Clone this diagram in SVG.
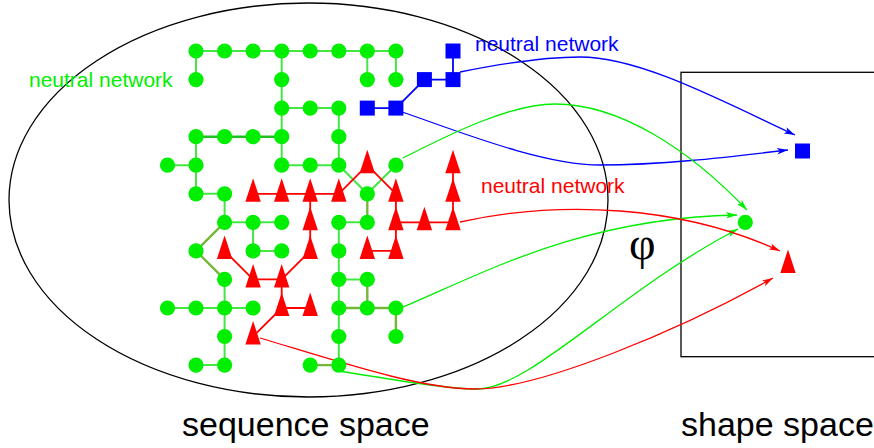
<svg xmlns="http://www.w3.org/2000/svg" xmlns:xlink="http://www.w3.org/1999/xlink" width="874" height="448" viewBox="0 0 874 448">
<style>
.g{fill:#00ee00}
.r{fill:#ff0000}
.b{fill:#0000ff}
.ge{stroke:#44e644;stroke-width:2;fill:none}
.ok{stroke:#74b83a;stroke-width:2.4;fill:none}
.dk{stroke:#1fbf1f;stroke-width:2.4;fill:none}
.re{stroke:#ff0000;stroke-width:1.8;fill:none}
.be{stroke:#0000ff;stroke-width:1.8;fill:none}
.cb{stroke:#0000ff;stroke-width:1.3;fill:none;marker-end:url(#ab)}
.cg{stroke:#00ee00;stroke-width:1.3;fill:none;marker-end:url(#ag)}
.cr{stroke:#ff0000;stroke-width:1.3;fill:none;marker-end:url(#ar)}
.lbl{font-family:"Liberation Sans",Arial,sans-serif;font-size:21px}
.big{font-family:"Liberation Sans",Arial,sans-serif;font-size:34px;fill:#000}
</style>
<defs>
<circle id="dot" r="7.6" cx="0" cy="0"/>
<rect id="sq" x="-7.5" y="-7.5" width="15" height="15"/>
<polygon id="tri" points="0,-15.5 -7.7,8 7.7,8"/>
<marker id="ab" viewBox="0 0 10 6" refX="10" refY="3" markerWidth="11" markerHeight="6.6" markerUnits="userSpaceOnUse" orient="auto"><path d="M0,0 L10,3 L0,6 L2.5,3 z" fill="#0000ff"/></marker>
<marker id="ag" viewBox="0 0 10 6" refX="10" refY="3" markerWidth="11" markerHeight="6.6" markerUnits="userSpaceOnUse" orient="auto"><path d="M0,0 L10,3 L0,6 L2.5,3 z" fill="#00ee00"/></marker>
<marker id="ar" viewBox="0 0 10 6" refX="10" refY="3" markerWidth="11" markerHeight="6.6" markerUnits="userSpaceOnUse" orient="auto"><path d="M0,0 L10,3 L0,6 L2.5,3 z" fill="#ff0000"/></marker>
</defs>
<rect width="874" height="448" fill="#ffffff"/>

<g id="sequence-space">
<ellipse cx="308.5" cy="200" rx="299.5" ry="197" fill="none" stroke="#000" stroke-width="1.3"/>
</g>
<g id="shape-space">
<rect x="681" y="72.3" width="220" height="284.4" fill="none" stroke="#000" stroke-width="1.3"/>
</g>

<g id="edges">
<path class="ge" d="M196,51 H395.9 M196,51 V79.6 M281.7,51 V165.2 M367.3,51 V79.6 M395.9,51 V79.6 M281.7,108.1 H338.8 M338.8,108.1 V165.2 M196,136.7 V193.8 M167.5,165.2 H196 M281.7,165.2 H338.8 M196,193.8 H224.6 M224.6,193.8 V222.3 M224.6,222.3 H281.7 M253.1,222.3 V250.9 M253.1,250.9 H281.7 M224.6,279.4 V365.1 M167.5,308 H253.1 M196,365.1 H224.6 M338.8,165.2 L367.3,193.8 M395.9,165.2 L367.3,193.8 M338.8,222.3 H367.3 M338.8,222.3 V365.1 M338.8,279.4 H367.3"/>
<path class="dk" d="M196,136.7 H281.7"/>
<path class="ok" d="M196,250.9 L224.6,222.3 M196,250.9 L224.6,279.4 M367.3,193.8 V222.3 M367.3,279.4 V308 M338.8,308 H395.9 M395.9,308 V336.5 M310.2,365.1 H338.8"/>
<path class="re" d="M253.1,193.8 H338.8 M367.3,165.2 L338.8,193.8 M367.3,165.2 L395.9,193.8 M310.2,193.8 V250.9 M395.9,193.8 V250.9 M395.9,222.3 H453 M453,165.2 V222.3 M367.3,250.9 H395.9 M224.6,250.9 L253.1,279.4 M253.1,279.4 H281.7 M310.2,250.9 L281.7,279.4 M281.7,279.4 V308 M281.7,308 H310.2 M281.7,308 L253.1,336.5"/>
<path class="be" d="M453,51 V79.6 M424.4,79.6 H453 M395.9,108.1 L424.4,79.6 M367.3,108.1 H395.9"/>
</g>

<g id="connectors">
<path class="cb" d="M460,72 C490,66 540,57 580,57 C640,57 720,100 795,135"/>
<path class="cb" d="M402,112 C450,128 540,165 600,165 C660,165 720,158 788,150"/>
<path class="cg" d="M403,158 C450,134 510,104 555,104 C620,104 690,150 747,210"/>
<path class="cg" d="M403,307 C480,275 580,218 737,215"/>
<path class="cg" d="M339,371 C400,381 450,389 477,389 C530,389 620,290 738,229"/>
<path class="cr" d="M460,222 C560,200 680,205 780,251"/>
<path class="cr" d="M260,338 C340,362 420,389 475,389 C540,389 680,330 773,278"/>
</g>

<g id="green-nodes" class="g">
<g id="g0-0"><use href="#dot" x="196" y="51"/></g>
<g id="g0-1"><use href="#dot" x="224.6" y="51"/></g>
<g id="g0-2"><use href="#dot" x="253.1" y="51"/></g>
<g id="g0-3"><use href="#dot" x="281.7" y="51"/></g>
<g id="g0-4"><use href="#dot" x="310.2" y="51"/></g>
<g id="g0-5"><use href="#dot" x="338.8" y="51"/></g>
<g id="g0-6"><use href="#dot" x="367.3" y="51"/></g>
<g id="g0-7"><use href="#dot" x="395.9" y="51"/></g>
<g id="g1-0"><use href="#dot" x="196" y="79.6"/></g>
<g id="g1-3"><use href="#dot" x="281.7" y="79.6"/></g>
<g id="g1-6"><use href="#dot" x="367.3" y="79.6"/></g>
<g id="g1-7"><use href="#dot" x="395.9" y="79.6"/></g>
<g id="g2-3"><use href="#dot" x="281.7" y="108.1"/></g>
<g id="g2-4"><use href="#dot" x="310.2" y="108.1"/></g>
<g id="g2-5"><use href="#dot" x="338.8" y="108.1"/></g>
<g id="g3-0"><use href="#dot" x="196" y="136.7"/></g>
<g id="g3-1"><use href="#dot" x="224.6" y="136.7"/></g>
<g id="g3-2"><use href="#dot" x="253.1" y="136.7"/></g>
<g id="g3-3"><use href="#dot" x="281.7" y="136.7"/></g>
<g id="g3-5"><use href="#dot" x="338.8" y="136.7"/></g>
<g id="g4-m"><use href="#dot" x="167.5" y="165.2"/></g>
<g id="g4-0"><use href="#dot" x="196" y="165.2"/></g>
<g id="g4-3"><use href="#dot" x="281.7" y="165.2"/></g>
<g id="g4-4"><use href="#dot" x="310.2" y="165.2"/></g>
<g id="g4-5"><use href="#dot" x="338.8" y="165.2"/></g>
<g id="g4-7"><use href="#dot" x="395.9" y="165.2"/></g>
<g id="g5-0"><use href="#dot" x="196" y="193.8"/></g>
<g id="g5-1"><use href="#dot" x="224.6" y="193.8"/></g>
<g id="g5-6"><use href="#dot" x="367.3" y="193.8"/></g>
<g id="g6-1"><use href="#dot" x="224.6" y="222.3"/></g>
<g id="g6-2"><use href="#dot" x="253.1" y="222.3"/></g>
<g id="g6-3"><use href="#dot" x="281.7" y="222.3"/></g>
<g id="g6-5"><use href="#dot" x="338.8" y="222.3"/></g>
<g id="g6-6"><use href="#dot" x="367.3" y="222.3"/></g>
<g id="g7-0"><use href="#dot" x="196" y="250.9"/></g>
<g id="g7-2"><use href="#dot" x="253.1" y="250.9"/></g>
<g id="g7-3"><use href="#dot" x="281.7" y="250.9"/></g>
<g id="g7-5"><use href="#dot" x="338.8" y="250.9"/></g>
<g id="g8-1"><use href="#dot" x="224.6" y="279.4"/></g>
<g id="g8-5"><use href="#dot" x="338.8" y="279.4"/></g>
<g id="g8-6"><use href="#dot" x="367.3" y="279.4"/></g>
<g id="g9-m"><use href="#dot" x="167.5" y="308"/></g>
<g id="g9-0"><use href="#dot" x="196" y="308"/></g>
<g id="g9-1"><use href="#dot" x="224.6" y="308"/></g>
<g id="g9-2"><use href="#dot" x="253.1" y="308"/></g>
<g id="g9-5"><use href="#dot" x="338.8" y="308"/></g>
<g id="g9-6"><use href="#dot" x="367.3" y="308"/></g>
<g id="g9-7"><use href="#dot" x="395.9" y="308"/></g>
<g id="g10-1"><use href="#dot" x="224.6" y="336.5"/></g>
<g id="g10-5"><use href="#dot" x="338.8" y="336.5"/></g>
<g id="g10-7"><use href="#dot" x="395.9" y="336.5"/></g>
<g id="g11-0"><use href="#dot" x="196" y="365.1"/></g>
<g id="g11-1"><use href="#dot" x="224.6" y="365.1"/></g>
<g id="g11-4"><use href="#dot" x="310.2" y="365.1"/></g>
<g id="g11-5"><use href="#dot" x="338.8" y="365.1"/></g>
</g>

<g id="red-nodes" class="r">
<g id="r4-6"><use href="#tri" x="367.3" y="165.2"/></g>
<g id="r4-9"><use href="#tri" x="453" y="165.2"/></g>
<g id="r5-2"><use href="#tri" x="253.1" y="193.8"/></g>
<g id="r5-3"><use href="#tri" x="281.7" y="193.8"/></g>
<g id="r5-4"><use href="#tri" x="310.2" y="193.8"/></g>
<g id="r5-5"><use href="#tri" x="338.8" y="193.8"/></g>
<g id="r5-7"><use href="#tri" x="395.9" y="193.8"/></g>
<g id="r5-9"><use href="#tri" x="453" y="193.8"/></g>
<g id="r6-4"><use href="#tri" x="310.2" y="222.3"/></g>
<g id="r6-7"><use href="#tri" x="395.9" y="222.3"/></g>
<g id="r6-8"><use href="#tri" x="424.4" y="222.3"/></g>
<g id="r6-9"><use href="#tri" x="453" y="222.3"/></g>
<g id="r7-1"><use href="#tri" x="224.6" y="250.9"/></g>
<g id="r7-4"><use href="#tri" x="310.2" y="250.9"/></g>
<g id="r7-6"><use href="#tri" x="367.3" y="250.9"/></g>
<g id="r7-7"><use href="#tri" x="395.9" y="250.9"/></g>
<g id="r8-2"><use href="#tri" x="253.1" y="279.4"/></g>
<g id="r8-3"><use href="#tri" x="281.7" y="279.4"/></g>
<g id="r9-3"><use href="#tri" x="281.7" y="308"/></g>
<g id="r9-4"><use href="#tri" x="310.2" y="308"/></g>
<g id="r10-2"><use href="#tri" x="253.1" y="336.5"/></g>
</g>

<g id="blue-nodes" class="b">
<g id="b0"><use href="#sq" x="453" y="51"/></g>
<g id="b1"><use href="#sq" x="424.4" y="79.6"/></g>
<g id="b2"><use href="#sq" x="453" y="79.6"/></g>
<g id="b3"><use href="#sq" x="367.3" y="108.1"/></g>
<g id="b4"><use href="#sq" x="395.9" y="108.1"/></g>
</g>

<g id="shape-blue" class="b"><use href="#sq" x="802.5" y="151"/></g>
<g id="shape-green" class="g"><use href="#dot" x="745.3" y="222.3"/></g>
<g id="shape-red" class="r"><use href="#tri" x="788" y="265"/></g>

<g id="labels">
<text class="lbl" x="29" y="87" fill="#00ee00">neutral network</text>
<text class="lbl" x="475" y="51" fill="#0000ff">neutral network</text>
<text class="lbl" x="481" y="193" fill="#ff0000">neutral network</text>
<text x="629" y="259" font-family="'Liberation Serif','Times New Roman',serif" font-size="46" fill="#000">φ</text>
<text class="big" x="182" y="436">sequence space</text>
<text class="big" x="681" y="436">shape space</text>
</g>
</svg>
